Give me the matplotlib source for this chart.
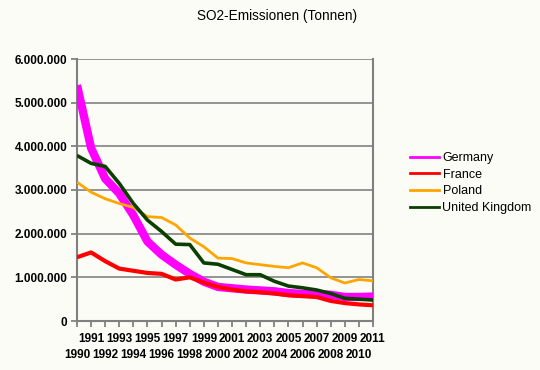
import matplotlib
matplotlib.use("Agg")
import matplotlib.pyplot as plt
from matplotlib.lines import Line2D

years = list(range(1990, 2012))

germany = [5.40, 3.96, 3.26, 2.92, 2.42, 1.82, 1.52, 1.29, 1.08, 0.90, 0.78,
           0.75, 0.72, 0.70, 0.68, 0.64, 0.62, 0.62, 0.60, 0.55, 0.55, 0.56]
france = [1.46, 1.57, 1.37, 1.20, 1.15, 1.10, 1.08, 0.95, 1.00, 0.88, 0.78,
          0.72, 0.68, 0.66, 0.63, 0.59, 0.57, 0.55, 0.46, 0.41, 0.38, 0.36]
poland = [3.18, 2.95, 2.80, 2.69, 2.60, 2.39, 2.37, 2.20, 1.90, 1.70, 1.44,
          1.43, 1.33, 1.29, 1.25, 1.22, 1.33, 1.22, 0.99, 0.87, 0.95, 0.92]
uk = [3.79, 3.61, 3.54, 3.15, 2.69, 2.31, 2.05, 1.76, 1.75, 1.33, 1.30,
      1.18, 1.06, 1.06, 0.91, 0.80, 0.76, 0.71, 0.63, 0.52, 0.50, 0.48]

series = [
    ("Germany", germany, "#FF00FF", 6.0),
    ("France", france, "#FF0000", 3.0),
    ("Poland", poland, "#FFA500", 2.0),
    ("United Kingdom", uk, "#0A3F00", 2.6),
]
y_ticks = [0, 1_000_000, 2_000_000, 3_000_000, 4_000_000, 5_000_000, 6_000_000]

bg = "#FCFCF7"
plt.rcParams["font.family"] = ["Liberation Sans", "DejaVu Sans"]

fig = plt.figure(figsize=(5.4, 3.7), dpi=100, facecolor=bg)
ax = fig.add_axes([77 / 540, 1 - 321 / 370, 296 / 540, 262 / 370], facecolor=bg)

for i, (name, vals, color, lw) in enumerate(series):
    ax.plot(years, [v * 1e6 for v in vals], color=color, lw=lw,
            solid_joinstyle="round", solid_capstyle="butt", zorder=3 + i)

ax.set_xlim(1990, 2011)
ax.set_ylim(0, 6_000_000)
ax.set_yticks(y_ticks)
ax.set_yticklabels([f"{v:,.0f}".replace(",", ".") for v in y_ticks],
                   fontsize=8.5, fontweight="bold")

# odd years on the first row, even years on a second row below
odd = [y for y in years if y % 2]
even = [y for y in years if not y % 2]
ax.set_xticks(odd)
ax.set_xticklabels([str(y) for y in odd], fontsize=8.5, fontweight="bold")
ax.set_xticks(even, minor=True)
ax.set_xticklabels([str(y) for y in even], minor=True, fontsize=8.5,
                   fontweight="bold")

ax.tick_params(axis="both", which="both", colors="#777777", length=4,
               width=1.2, labelcolor="black")
ax.tick_params(axis="x", which="major", pad=5)
ax.tick_params(axis="x", which="minor", pad=16.5)
ax.tick_params(axis="y", pad=3)

ax.grid(axis="y", color="#8C8C8C", lw=1.3, zorder=1)
ax.set_axisbelow(True)
for side in ("left", "bottom", "right"):
    ax.spines[side].set_color("#808080")
    ax.spines[side].set_linewidth(1.5)
ax.spines["top"].set_visible(False)

fig.text(0.513, 0.957, "SO2-Emissionen (Tonnen)", ha="center", va="center",
         fontsize=9.8)

handles = [Line2D([], [], color=c, lw=2) for _, _, c, _ in series]
fig.legend(handles, [s[0] for s in series], loc="upper left",
           bbox_to_anchor=(405 / 540, 1 - 147 / 370), frameon=False,
           fontsize=9, handlelength=2.3, handletextpad=0.3,
           labelspacing=0.38, borderaxespad=0)

fig.savefig("out.png", dpi=100, facecolor=bg)
